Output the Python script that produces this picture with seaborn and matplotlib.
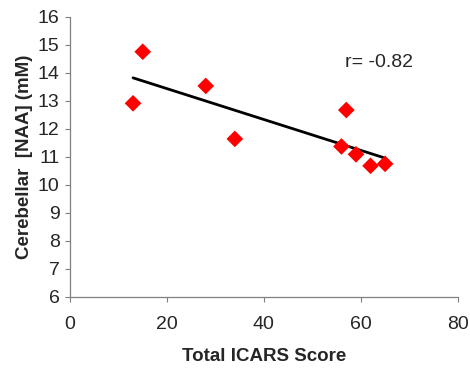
import numpy as np
import pandas as pd
import matplotlib
matplotlib.use("Agg")
import matplotlib.pyplot as plt
import seaborn as sns

icars = [13, 15, 28, 34, 57, 56, 59, 62, 65]
naa = [12.91, 14.75, 13.53, 11.64, 12.67, 11.37, 11.09, 10.68, 10.75]
r_label = "r= -0.82"
x_ticks = [0, 20, 40, 60, 80]
y_ticks = [6, 7, 8, 9, 10, 11, 12, 13, 14, 15, 16]

df = pd.DataFrame({"ICARS": icars, "NAA": naa})

sns.set_style("white")
plt.rcParams["font.family"] = ["Liberation Sans", "DejaVu Sans"]

fig = plt.figure(figsize=(4.7, 3.71), dpi=100)
ax = fig.add_axes([0.149, 0.1995, 0.825, 0.7555])

sns.regplot(data=df, x="ICARS", y="NAA", scatter=False, ci=None, truncate=True,
            color="black", line_kws={"linewidth": 2.0}, ax=ax)
sns.scatterplot(data=df, x="ICARS", y="NAA", marker="D", s=72, color="#FF0000",
                edgecolor="none", linewidth=0, ax=ax, zorder=3)

ax.set_xlim(0, 80)
ax.set_ylim(6, 16)
ax.set_xticks(x_ticks)
ax.set_yticks(y_ticks)
ax.tick_params(axis="both", labelsize=14, direction="out", length=3.5, width=0.8,
               color="#808080", left=True, bottom=True)
ax.tick_params(axis="x", pad=10)
ax.tick_params(axis="y", pad=4)

for side in ["top", "right"]:
    ax.spines[side].set_visible(False)
for side in ["left", "bottom"]:
    ax.spines[side].set_color("#808080")
    ax.spines[side].set_linewidth(0.9)

ax.set_xlabel("Total ICARS Score", fontsize=13.5, fontweight="bold", labelpad=11)
ax.set_ylabel("Cerebellar  [NAA] (mM)", fontsize=13.5, fontweight="bold", labelpad=3.5)

ax.text(56.7, 14.35, r_label, fontsize=14, va="center", ha="left")

fig.savefig("out.png", dpi=100)
